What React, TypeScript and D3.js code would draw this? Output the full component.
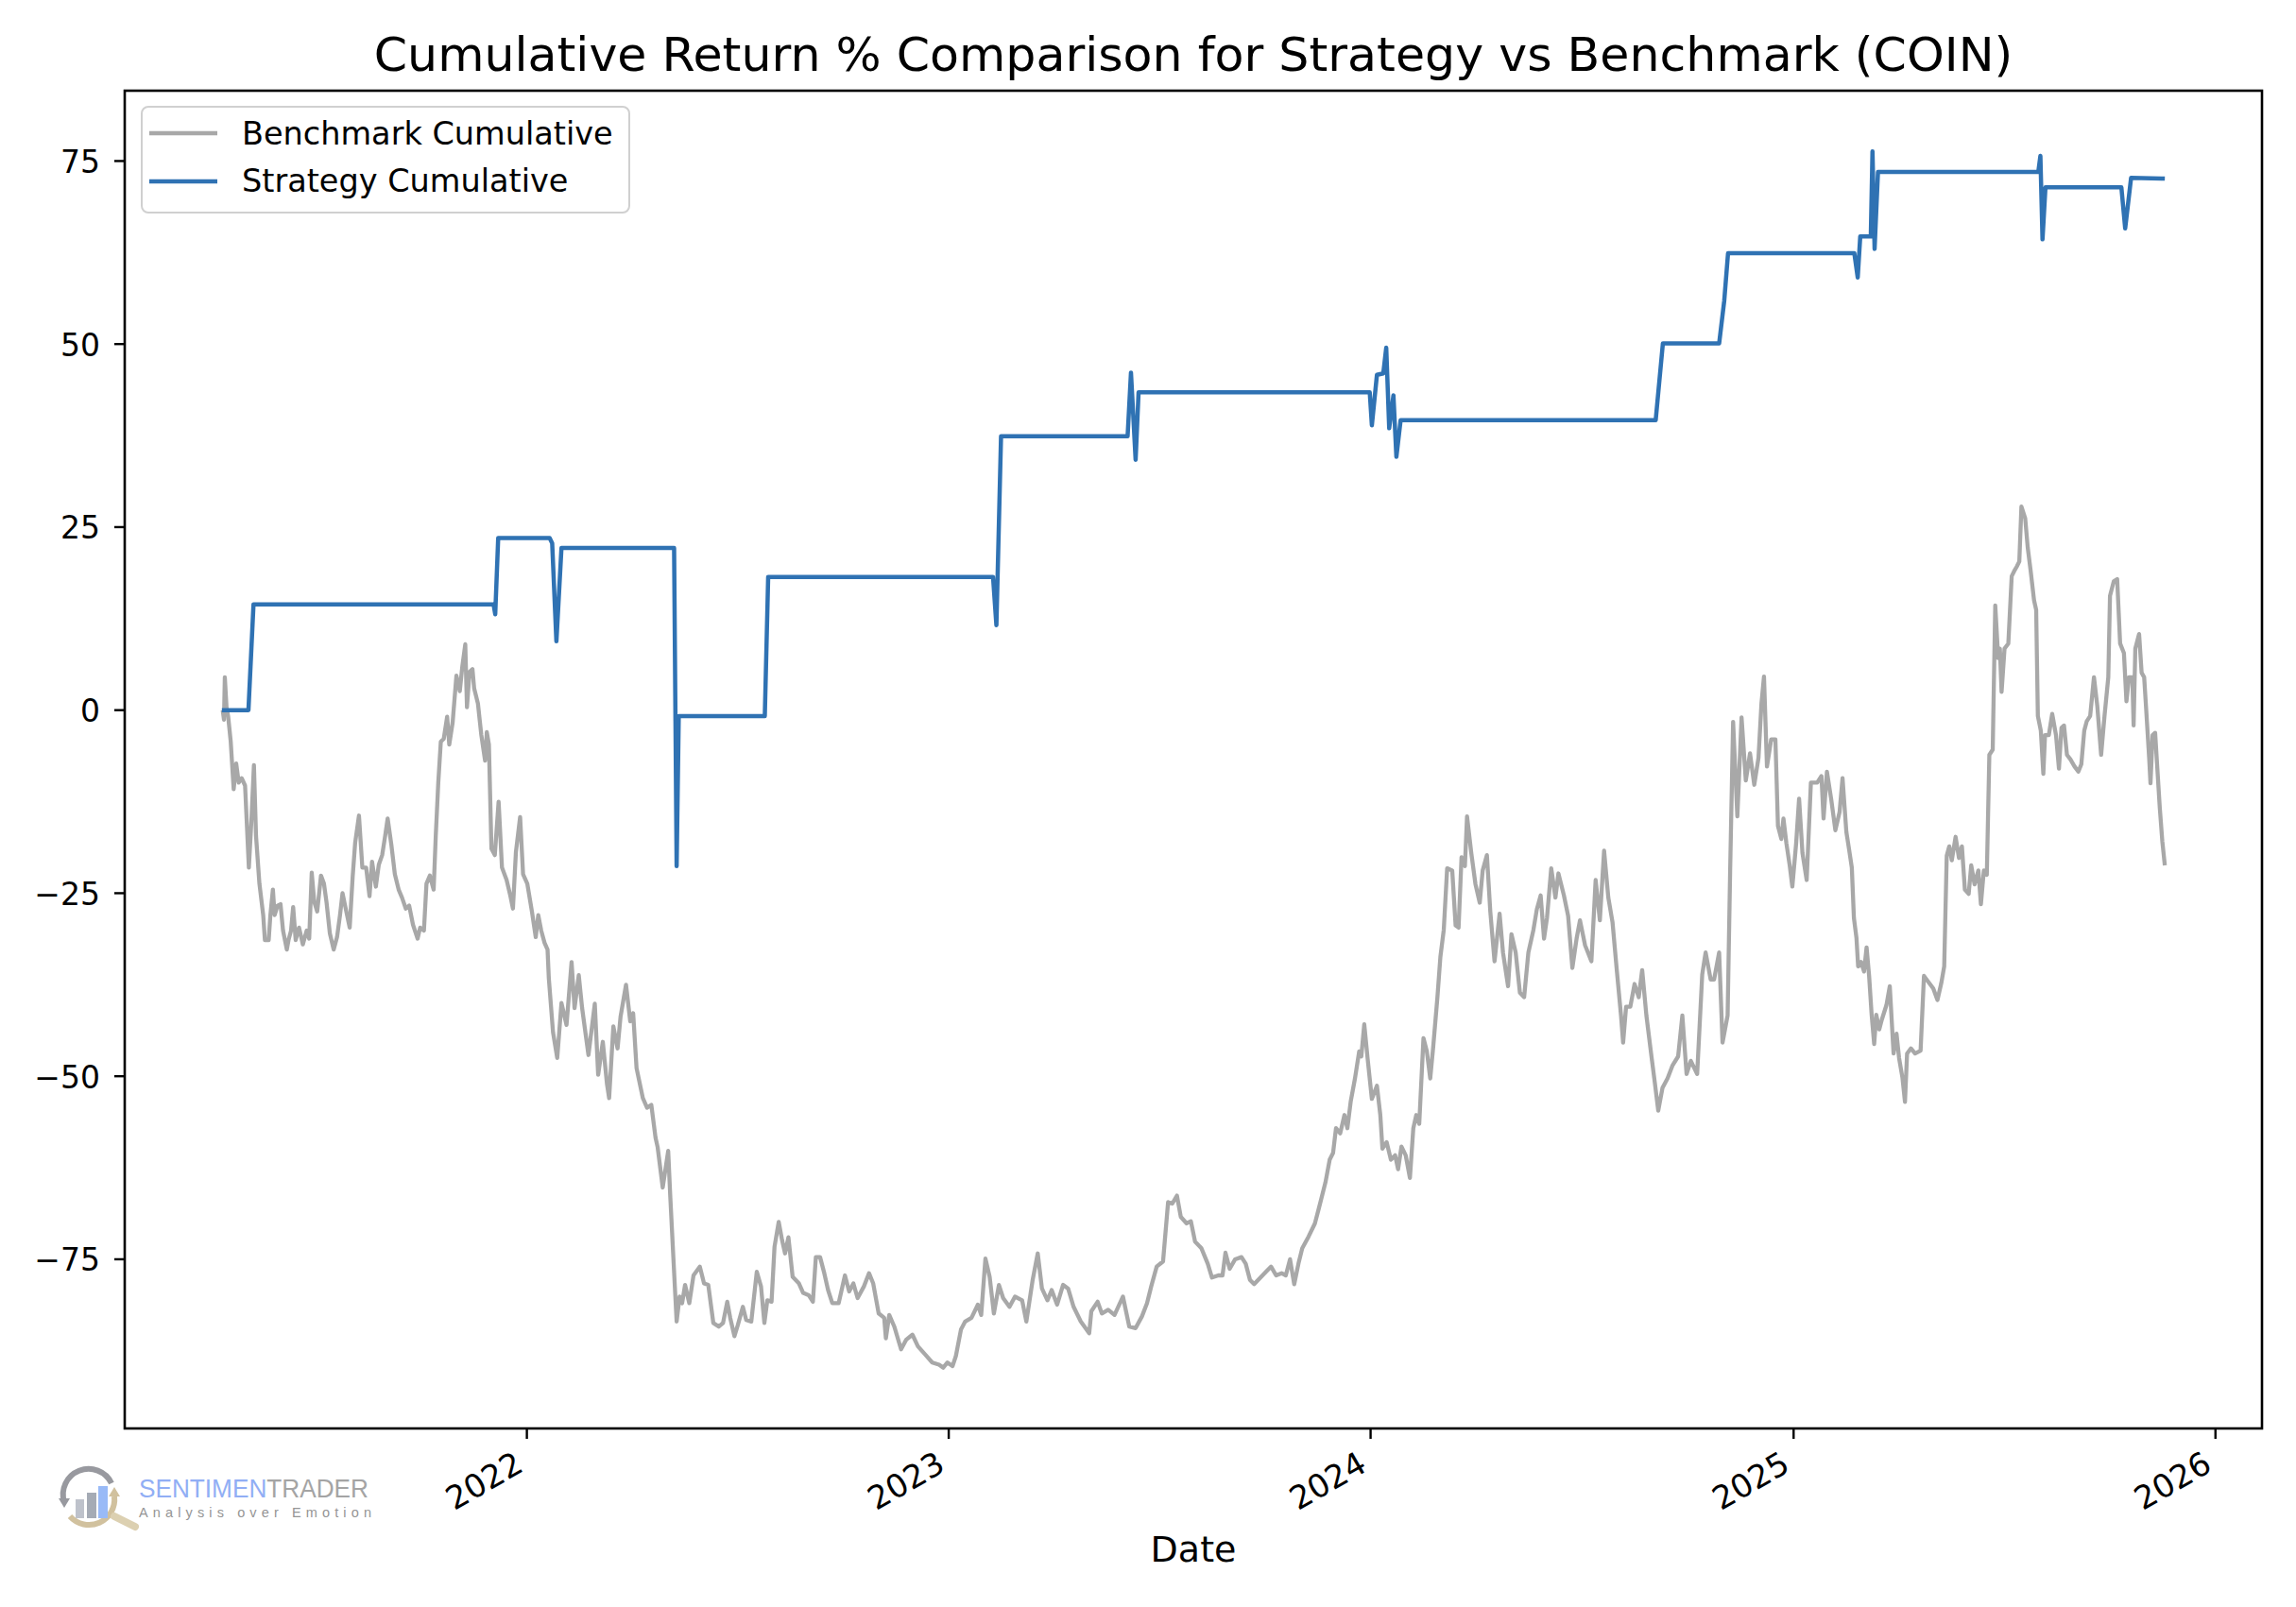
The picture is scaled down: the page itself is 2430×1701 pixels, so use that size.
import * as d3 from "d3";

// [decimal year, cumulative return %]
const bench2021: [number, number][] = [
  [2021.279, 0.0], [2021.282, -1.3], [2021.284, 4.5], [2021.288, 0.4], [2021.292, -0.9],
  [2021.298, -4.3], [2021.305, -10.8], [2021.311, -7.3], [2021.317, -9.9], [2021.324, -9.3],
  [2021.332, -10.3], [2021.341, -21.5], [2021.347, -15.1], [2021.353, -7.5], [2021.358, -17.2],
  [2021.366, -23.7], [2021.375, -28], [2021.379, -31.4], [2021.388, -31.4], [2021.392, -28],
  [2021.398, -24.5], [2021.402, -28], [2021.409, -26.7], [2021.416, -26.5], [2021.422, -30.1],
  [2021.431, -32.7], [2021.435, -31.4], [2021.441, -30.1], [2021.446, -26.9], [2021.452, -31.4],
  [2021.46, -29.7], [2021.469, -32], [2021.478, -30.1], [2021.484, -31.2], [2021.49, -22.2],
  [2021.496, -26.2], [2021.503, -27.5], [2021.512, -22.6], [2021.519, -23.7], [2021.525, -26.2],
  [2021.533, -30.5], [2021.542, -32.7], [2021.55, -31], [2021.557, -28], [2021.563, -25],
  [2021.572, -27.5], [2021.58, -29.7], [2021.587, -22.8], [2021.593, -18.1], [2021.602, -14.4],
  [2021.61, -21.5], [2021.619, -21.5], [2021.627, -25.4], [2021.633, -20.7], [2021.642, -24.1],
  [2021.649, -21.1], [2021.657, -19.8], [2021.664, -17.2], [2021.67, -14.8], [2021.679, -18.5],
  [2021.687, -22.4], [2021.696, -24.5], [2021.704, -25.6], [2021.713, -27.1], [2021.721, -26.7],
  [2021.73, -29.3], [2021.741, -31.2], [2021.747, -29.7], [2021.756, -30.1], [2021.762, -23.7],
  [2021.77, -22.6], [2021.779, -24.5], [2021.784, -17.2], [2021.79, -9.9], [2021.796, -4.3],
  [2021.803, -3.9], [2021.811, -0.9], [2021.816, -4.7], [2021.824, -1.7], [2021.833, 4.7],
  [2021.841, 2.6], [2021.847, 6], [2021.854, 9], [2021.858, 0.4], [2021.864, 5.2],
  [2021.871, 5.6], [2021.875, 3], [2021.884, 0.9], [2021.892, -3.4], [2021.901, -6.9],
  [2021.905, -3], [2021.91, -4.7], [2021.916, -18.9], [2021.924, -19.8], [2021.933, -12.5],
  [2021.941, -21.5], [2021.952, -23.2], [2021.961, -25.4], [2021.967, -27.1], [2021.974, -19.4],
  [2021.984, -14.6], [2021.991, -22.4],
];

const bench2022: [number, number][] = [
  [2022.001, -23.7], [2022.012, -27.5], [2022.021, -31], [2022.027, -28], [2022.034, -30.1],
  [2022.042, -31.8], [2022.049, -32.7], [2022.052, -36.6], [2022.062, -44], [2022.072, -47.5],
  [2022.082, -40], [2022.094, -43], [2022.106, -34.4], [2022.113, -40.7], [2022.123, -36.2],
  [2022.131, -40.7], [2022.146, -47.1], [2022.161, -40.1], [2022.169, -49.8], [2022.18, -45.3],
  [2022.19, -51.1], [2022.195, -53], [2022.205, -43.2], [2022.215, -46.2], [2022.222, -41.9],
  [2022.235, -37.5], [2022.245, -42.5], [2022.252, -41.4], [2022.26, -48.9], [2022.275, -53],
  [2022.285, -54.3], [2022.295, -53.9], [2022.305, -58.4], [2022.31, -59.7], [2022.322, -65.2],
  [2022.328, -62.9], [2022.335, -60.2], [2022.34, -66.5], [2022.348, -75.6], [2022.355, -83.5],
  [2022.362, -80.1], [2022.368, -81], [2022.375, -78.5], [2022.385, -81], [2022.395, -77.2],
  [2022.41, -76], [2022.42, -78.3], [2022.43, -78.5], [2022.442, -83.7], [2022.455, -84.2],
  [2022.465, -83.7], [2022.475, -80.8], [2022.482, -83], [2022.492, -85.5], [2022.5, -84],
  [2022.512, -81.5], [2022.52, -83.3], [2022.532, -83.5], [2022.545, -76.7], [2022.555, -78.7],
  [2022.563, -83.7], [2022.57, -80.6], [2022.58, -80.8], [2022.587, -73.3], [2022.597, -69.9],
  [2022.605, -72.4], [2022.612, -74.2], [2022.62, -72], [2022.63, -77.4], [2022.645, -78.3],
  [2022.655, -79.6], [2022.668, -79.9], [2022.678, -80.8], [2022.685, -74.7], [2022.695, -74.7],
  [2022.705, -76.9], [2022.714, -79.2], [2022.724, -81], [2022.739, -81], [2022.754, -77.2],
  [2022.764, -79.4], [2022.774, -78.3], [2022.784, -80.3], [2022.799, -78.7], [2022.811, -76.9],
  [2022.821, -78.3], [2022.834, -82.4], [2022.847, -83], [2022.851, -85.8], [2022.859, -82.6],
  [2022.871, -84.2], [2022.887, -87.3], [2022.899, -86], [2022.914, -85.3], [2022.927, -86.9],
  [2022.944, -88], [2022.961, -89.1], [2022.977, -89.4], [2022.987, -89.8], [2022.997, -89.1],
];

const bench2023: [number, number][] = [
  [2023.009, -89.6], [2023.017, -88.2], [2023.029, -84.6], [2023.039, -83.5], [2023.054, -83],
  [2023.069, -81.2], [2023.077, -82.6], [2023.087, -74.9], [2023.097, -77.4], [2023.107, -82.4],
  [2023.119, -78.5], [2023.129, -80.3], [2023.144, -81.5], [2023.157, -80.1], [2023.174, -80.6],
  [2023.184, -83.5], [2023.199, -77.8], [2023.211, -74.2], [2023.221, -79], [2023.234, -80.6],
  [2023.244, -79.2], [2023.257, -81.2], [2023.271, -78.5], [2023.283, -79], [2023.296, -81.5],
  [2023.313, -83.5], [2023.333, -85.1], [2023.338, -82.1], [2023.353, -80.8], [2023.363, -82.4],
  [2023.378, -81.9], [2023.393, -82.6], [2023.413, -80.1], [2023.428, -84.2], [2023.443, -84.4],
  [2023.458, -82.8], [2023.47, -81], [2023.48, -78.7], [2023.493, -76], [2023.508, -75.3],
  [2023.52, -67.2], [2023.53, -67.4], [2023.541, -66.3], [2023.55, -69.2], [2023.564, -70.1],
  [2023.574, -69.8], [2023.584, -72.6], [2023.599, -73.5], [2023.614, -75.6], [2023.624, -77.5],
  [2023.639, -77.2], [2023.649, -77.2], [2023.656, -74.1], [2023.666, -76.3], [2023.679, -75],
  [2023.694, -74.7], [2023.704, -75.6], [2023.714, -77.8], [2023.724, -78.4], [2023.739, -77.5],
  [2023.754, -76.6], [2023.764, -76], [2023.776, -77.2], [2023.789, -76.9], [2023.799, -77.2],
  [2023.809, -75], [2023.819, -78.4], [2023.829, -75.6], [2023.838, -73.5], [2023.853, -71.9],
  [2023.868, -70.1], [2023.878, -67.9], [2023.893, -64.5], [2023.903, -61.4], [2023.911, -60.5],
  [2023.918, -57.1], [2023.928, -57.8], [2023.938, -55.3], [2023.945, -57.1], [2023.953, -53.4],
  [2023.963, -50.3], [2023.973, -46.6], [2023.978, -47.3], [2023.985, -42.9], [2023.993, -47.6],
];

const bench2024: [number, number][] = [
  [2024.003, -53.1], [2024.015, -51.3], [2024.023, -55.3], [2024.028, -59.9], [2024.038, -59],
  [2024.048, -61.4], [2024.058, -60.8], [2024.065, -62.7], [2024.073, -59.6], [2024.083, -60.8],
  [2024.093, -63.9], [2024.101, -57.1], [2024.108, -55.3], [2024.115, -56.5], [2024.125, -44.8],
  [2024.133, -46.6], [2024.141, -50.3], [2024.148, -46], [2024.158, -39.2], [2024.165, -33.7],
  [2024.173, -30], [2024.181, -21.6], [2024.193, -21.9], [2024.201, -29.4], [2024.208, -29.7],
  [2024.215, -20.1], [2024.223, -21.3], [2024.228, -14.5], [2024.238, -19.5], [2024.248, -23.8],
  [2024.258, -26.3], [2024.265, -21.9], [2024.275, -19.8], [2024.283, -27.5], [2024.293, -34.3],
  [2024.305, -27.8], [2024.313, -33.1], [2024.325, -37.7], [2024.333, -30.6], [2024.343, -33.1],
  [2024.353, -38.6], [2024.363, -39.2], [2024.373, -33.1], [2024.385, -30], [2024.393, -27.2],
  [2024.402, -25.3], [2024.41, -31.2], [2024.417, -28.4], [2024.427, -21.6], [2024.437, -25.6],
  [2024.444, -22.3], [2024.457, -25.3], [2024.467, -28.1], [2024.477, -35.2], [2024.487, -31.2],
  [2024.495, -28.7], [2024.507, -32.1], [2024.522, -34.3], [2024.532, -23.2], [2024.542, -28.7],
  [2024.552, -19.2], [2024.562, -25.6], [2024.572, -29], [2024.582, -35.5], [2024.592, -41.7],
  [2024.597, -45.4], [2024.604, -40.5], [2024.614, -40.5], [2024.624, -37.4], [2024.634, -39.2],
  [2024.642, -35.5], [2024.652, -41.7], [2024.664, -47.3], [2024.672, -50.9], [2024.68, -54.7],
  [2024.69, -51.6], [2024.702, -50.3], [2024.714, -48.5], [2024.727, -47.3], [2024.737, -41.7],
  [2024.747, -49.7], [2024.757, -47.9], [2024.772, -49.7], [2024.784, -36.1], [2024.792, -33.1],
  [2024.804, -36.8], [2024.812, -36.8], [2024.824, -33.1], [2024.832, -45.4], [2024.844, -41.7],
  [2024.85, -21.9], [2024.857, -1.6], [2024.867, -14.5], [2024.877, -1], [2024.887, -9.6],
  [2024.897, -5.9], [2024.907, -10.2], [2024.917, -6.5], [2024.924, 0.9], [2024.93, 4.6],
  [2024.937, -7.7], [2024.947, -4], [2024.957, -4], [2024.963, -15.8], [2024.971, -17.6],
  [2024.976, -14.8], [2024.983, -18.2], [2024.991, -21.3], [2024.997, -24.1],
];

const bench2025: [number, number][] = [
  [2025.006, -18.2], [2025.013, -12.1], [2025.021, -19.5], [2025.031, -23.2], [2025.041, -9.9],
  [2025.056, -9.9], [2025.066, -9], [2025.071, -14.8], [2025.079, -8.4], [2025.089, -12.1],
  [2025.099, -16.4], [2025.109, -13.9], [2025.116, -9.3], [2025.125, -16.6], [2025.132, -19.2],
  [2025.138, -21.5], [2025.143, -28.4], [2025.149, -31.1], [2025.153, -35], [2025.16, -34.4],
  [2025.167, -35.7], [2025.173, -32.4], [2025.179, -36.3], [2025.185, -41.6], [2025.191, -45.6],
  [2025.196, -41.6], [2025.203, -43.6], [2025.209, -42.3], [2025.22, -40.3], [2025.228, -37.7],
  [2025.237, -46.9], [2025.244, -44.2], [2025.25, -47.5], [2025.258, -50.2], [2025.264, -53.5],
  [2025.269, -46.9], [2025.278, -46.2], [2025.288, -46.9], [2025.301, -46.5], [2025.309, -36.3],
  [2025.318, -37], [2025.331, -38], [2025.341, -39.6], [2025.35, -37.3], [2025.357, -35],
  [2025.363, -19.9], [2025.369, -18.6], [2025.375, -20.5], [2025.384, -17.3], [2025.392, -20.2],
  [2025.399, -18.6], [2025.406, -24.5], [2025.415, -25.1], [2025.421, -21.2], [2025.429, -23.8],
  [2025.438, -21.9], [2025.444, -26.5], [2025.451, -21.9], [2025.458, -22.5], [2025.464, -6.1],
  [2025.472, -5.4], [2025.478, 14.3], [2025.485, 7.1], [2025.489, 8.4], [2025.493, 2.5],
  [2025.5, 8.4], [2025.509, 9.1], [2025.517, 18.3], [2025.523, 19], [2025.529, 19.6],
  [2025.535, 20.3], [2025.54, 27.8], [2025.549, 26.2], [2025.555, 22.2], [2025.562, 19],
  [2025.57, 15], [2025.575, 13.7], [2025.579, -0.8], [2025.586, -2.8], [2025.592, -8.7],
  [2025.596, -3.4], [2025.605, -3.4], [2025.613, -0.5], [2025.622, -3.4], [2025.629, -8],
  [2025.635, -2.4], [2025.641, -2.1], [2025.648, -6.1], [2025.656, -6.7], [2025.666, -7.7],
  [2025.675, -8.4], [2025.682, -7.4], [2025.689, -2.8], [2025.695, -1.5], [2025.703, -0.8],
  [2025.712, 4.5], [2025.72, 0.5], [2025.729, -6.1], [2025.737, -0.8], [2025.746, 4.5],
  [2025.75, 15.6], [2025.759, 17.6], [2025.767, 17.9], [2025.774, 9.1], [2025.783, 7.8],
  [2025.789, 1.2], [2025.795, 4.5], [2025.803, 4.5], [2025.806, -2.1], [2025.81, 8.4],
  [2025.819, 10.4], [2025.825, 5.1], [2025.831, 4.5], [2025.836, -0.1], [2025.843, -6.7],
  [2025.846, -10], [2025.851, -3.4], [2025.857, -3.1], [2025.863, -8.7], [2025.868, -13.3],
  [2025.874, -17.9], [2025.88, -21.2],
];

const strategy: [number, number][] = [
  [2021.277, 0], [2021.34, 0], [2021.352, 14.45], [2021.921, 14.45], [2021.925, 13.1],
  [2021.932, 23.5], [2022.054, 23.5], [2022.06, 22.8], [2022.07, 9.4], [2022.082, 22.15],
  [2022.349, 22.15], [2022.355, -21.3], [2022.36, -0.8], [2022.564, -0.8], [2022.572, 18.2],
  [2023.105, 18.2], [2023.113, 11.6], [2023.124, 37.4], [2023.424, 37.4], [2023.432, 46.1],
  [2023.443, 34.2], [2023.45, 43.4], [2023.998, 43.4], [2024.003, 38.9], [2024.015, 45.8],
  [2024.03, 46], [2024.037, 49.5], [2024.044, 38.5], [2024.054, 43], [2024.061, 34.6],
  [2024.071, 39.6], [2024.674, 39.6], [2024.691, 50.1], [2024.824, 50.1], [2024.836, 55.9],
  [2024.845, 62.4], [2025.144, 62.4], [2025.152, 59.1], [2025.158, 64.7], [2025.183, 64.7],
  [2025.187, 76.3], [2025.192, 63], [2025.2, 73.5], [2025.58, 73.5], [2025.585, 75.7],
  [2025.59, 64.3], [2025.597, 71.4], [2025.777, 71.4], [2025.786, 65.8], [2025.8, 72.7],
  [2025.88, 72.6],
];

const yTicks = [-75, -50, -25, 0, 25, 50, 75];
const xTickYears = [2022, 2023, 2024, 2025, 2026];

const TITLE = "Cumulative Return % Comparison for Strategy vs Benchmark (COIN)";
const BENCH_LABEL = "Benchmark Cumulative";
const STRAT_LABEL = "Strategy Cumulative";

const W = 2430;
const H = 1701;
const plot = { left: 132, right: 2394, top: 96, bottom: 1512 };
const FONT = "DejaVu Sans, sans-serif";
const GRAY = "#a8a8a8";
const BLUE = "#2f72b3";

function toDate(y: number) {
  const yr = Math.floor(y);
  const s = Date.UTC(yr, 0, 1);
  const e = Date.UTC(yr + 1, 0, 1);
  return new Date(s + (y - yr) * (e - s));
}

// matplotlib style 5% margins
function padded(lo: number, hi: number) {
  const m = (hi - lo) * 0.05;
  return [lo - m, hi + m];
}

export default function App() {
  const benchmark = [...bench2021, ...bench2022, ...bench2023, ...bench2024, ...bench2025];
  const all = [...benchmark, ...strategy];

  const tExt = d3.extent(all, (d) => toDate(d[0]).getTime()) as [number, number];
  const vExt = d3.extent(all, (d) => d[1]) as [number, number];
  const [t0, t1] = padded(tExt[0], tExt[1]);
  const [v0, v1] = padded(vExt[0], vExt[1]);

  const x = d3.scaleTime().domain([new Date(t0), new Date(t1)]).range([plot.left, plot.right]);
  const y = d3.scaleLinear().domain([v0, v1]).range([plot.bottom, plot.top]);

  const line = d3
    .line<[number, number]>()
    .x((d) => x(toDate(d[0])))
    .y((d) => y(d[1]));

  const cx = (plot.left + plot.right) / 2;

  return (
    <svg
      width={W}
      height={H}
      style={{ position: "absolute", left: 0, top: 0, display: "block", background: "#fff" }}
      fontFamily={FONT}
    >
      <rect x={0} y={0} width={W} height={H} fill="#fff" />

      <defs>
        <clipPath id="plotClip">
          <rect x={plot.left} y={plot.top} width={plot.right - plot.left} height={plot.bottom - plot.top} />
        </clipPath>
      </defs>

      {/* title */}
      <text x={cx} y={75} fontSize={50.6} textAnchor="middle" fill="#000">
        {TITLE}
      </text>

      {/* lines */}
      <g clipPath="url(#plotClip)">
        <path d={line(benchmark) ?? ""} fill="none" stroke={GRAY} strokeWidth={4.3} strokeLinejoin="round" />
        <path d={line(strategy) ?? ""} fill="none" stroke={BLUE} strokeWidth={4.5} strokeLinejoin="round" />
      </g>

      {/* y axis ticks */}
      {yTicks.map((v) => (
        <g key={v}>
          <line x1={plot.left - 11} x2={plot.left} y1={y(v)} y2={y(v)} stroke="#000" strokeWidth={2.4} />
          <text x={106} y={y(v) + 12.5} fontSize={33} textAnchor="end" fill="#000">
            {v < 0 ? `\u2212${Math.abs(v)}` : `${v}`}
          </text>
        </g>
      ))}

      {/* x axis ticks */}
      {xTickYears.map((yr) => {
        const px = x(new Date(Date.UTC(yr, 0, 1)));
        return (
          <g key={yr}>
            <line x1={px} x2={px} y1={plot.bottom} y2={plot.bottom + 11} stroke="#000" strokeWidth={2.4} />
            <text
              transform={`translate(${px - 2},${plot.bottom + 44}) rotate(-30)`}
              fontSize={34}
              textAnchor="end"
              fill="#000"
            >
              {yr}
            </text>
          </g>
        );
      })}

      <text x={cx} y={1653} fontSize={38} textAnchor="middle" fill="#000">
        Date
      </text>

      {/* frame */}
      <rect
        x={plot.left}
        y={plot.top}
        width={plot.right - plot.left}
        height={plot.bottom - plot.top}
        fill="none"
        stroke="#000"
        strokeWidth={2.6}
      />

      {/* legend */}
      <g>
        <rect x={150} y={113} width={516} height={112} rx={7} fill="#fff" fillOpacity={0.8} stroke="#d0d0d0" strokeWidth={2} />
        <line x1={158} x2={230} y1={141} y2={141} stroke={GRAY} strokeWidth={4.3} />
        <text x={256} y={153} fontSize={33.5} fill="#000">
          {BENCH_LABEL}
        </text>
        <line x1={158} x2={230} y1={192} y2={192} stroke={BLUE} strokeWidth={4.5} />
        <text x={256} y={203} fontSize={33.5} fill="#000">
          {STRAT_LABEL}
        </text>
      </g>

      {/* watermark */}
      <g opacity={0.9}>
        <path d="M 118 1570 A 27 27 0 0 0 68 1590" fill="none" stroke="#8d8f95" strokeWidth={6} />
        <path d="M 62 1586 L 74 1586 L 68 1596 Z" fill="#8d8f95" />
        <path d="M 74 1605 A 27 27 0 0 0 121 1584" fill="none" stroke="#cdbb94" strokeWidth={6} />
        <path d="M 115 1584 L 127 1584 L 121 1574 Z" fill="#cdbb94" />
        <rect x={80} y={1587} width={9} height={20} fill="#b8bcc6" />
        <rect x={92} y={1580} width={10} height={27} fill="#9ca2ae" />
        <rect x={104} y={1573} width={10} height={34} fill="#8fb3f7" />
        <line x1={121} y1={1605} x2={143} y2={1616} stroke="#d9cba9" strokeWidth={8} strokeLinecap="round" />
        <text x={147} y={1585} fontSize={28} fontFamily="Liberation Sans, sans-serif" textLength={243} lengthAdjust="spacingAndGlyphs">
          <tspan fill="#86a6f4">SENTIMEN</tspan>
          <tspan fill="#9b9b9b">TRADER</tspan>
        </text>
        <text x={147} y={1606} fontSize={14.5} fill="#8a8a8a" fontFamily="Liberation Sans, sans-serif" textLength={246} lengthAdjust="spacing">
          Analysis over Emotion
        </text>
      </g>
    </svg>
  );
}
